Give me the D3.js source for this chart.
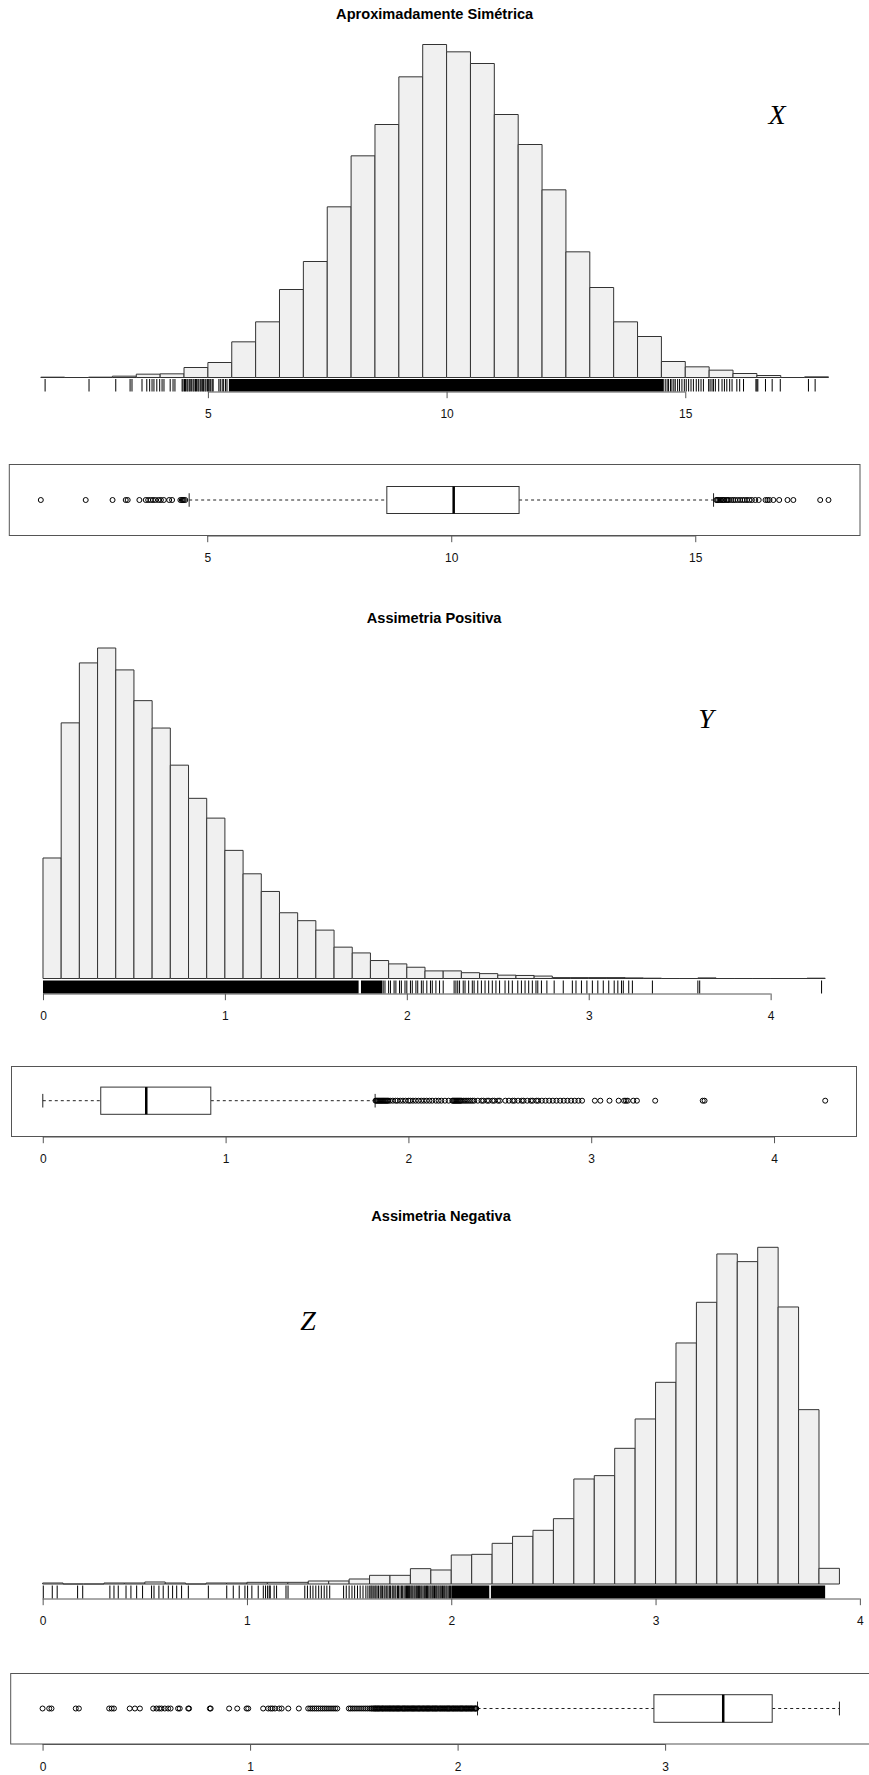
<!DOCTYPE html>
<html>
<head>
<meta charset="utf-8">
<script src="https://cdn.jsdelivr.net/npm/d3@7"></script>
<style>
  html, body { margin: 0; padding: 0; background: #fff; }
  svg { display: block; }
</style>
</head>
<body>
<svg id="chart" width="869" height="1775"></svg>
<script>
// ---------- X : approximately symmetric ----------
const titleX = "Aproximadamente Simétrica";
const letterX = "X";
const binStartX = 1.5, binWidthX = 0.5;
const countsX = [1, 0, 1, 4, 10, 11, 30, 45, 107, 167, 264, 348, 512, 665, 759, 902, 999,
  977, 942, 789, 699, 563, 377, 270, 167, 123, 48, 32, 22, 12, 6, 0, 2];
const rugX = [1.59, 2.51, 3.07, 3.37, 3.41, 3.62, 3.72, 3.78, 3.83, 3.87, 3.93, 3.99, 4.04, 4.08,
  4.21, 4.27, 4.31, 4.46, 4.48, 4.51, 4.53, 4.56, 4.58, 4.61, 4.63, 4.66, 4.69, 4.71, 4.74, 4.76,
  4.79, 4.81, 4.84, 4.86, 4.89, 4.91, 4.94, 4.96, 4.99, 5.01, 5.04, 5.06, 5.09, 5.11,
  5.23, 5.26, 5.30, 5.33, 5.37, 5.40,
  14.58, 14.62, 14.65, 14.69, 14.72, 14.76, 14.79, 14.84, 14.88, 14.93, 14.98, 15.02, 15.07,
  15.12, 15.17, 15.23, 15.28, 15.33, 15.38, 15.49, 15.52, 15.56, 15.59, 15.63, 15.70, 15.77,
  15.82, 15.87, 15.93, 15.98, 16.08, 16.14, 16.22, 16.48, 16.50, 16.52, 16.68, 16.82, 16.99,
  17.58, 17.72];
const rugBandsX = [[5.44, 14.55]];
const ticksX = [5, 10, 15];
const boxRangeX = [1.59, 17.73];
const boxStatsX = [4.63, 8.68, 10.05, 11.39, 15.375];
const outliersX = [1.59, 2.51, 3.06, 3.33, 3.37, 3.61, 3.74, 3.79, 3.84, 3.89, 3.94, 4.00, 4.05,
  4.11, 4.22, 4.28, 4.45, 4.48, 4.50, 4.52, 4.55,
  15.43, 15.45, 15.47, 15.50, 15.53, 15.56, 15.58, 15.60, 15.64, 15.66, 15.69, 15.74, 15.78,
  15.82, 15.87, 15.92, 15.97, 16.01, 16.06, 16.11, 16.16, 16.23, 16.30, 16.44, 16.48, 16.52,
  16.60, 16.72, 16.89, 17.01, 17.56, 17.73];

// ---------- Y : positive skew ----------
const titleY = "Assimetria Positiva";
const letterY = "Y";
const binStartY = 0, binWidthY = 0.1;
const countsY = [396, 840, 1037, 1086, 1014, 913, 823, 701, 592, 527, 421, 344, 286, 216, 190,
  159, 103, 84, 59, 48, 37, 25, 25, 19, 16, 11, 10, 8, 3, 3, 3, 3, 2, 1, 0, 0, 2, 0, 0, 0, 0, 0, 1];
const rugY = [1.87, 1.88, 1.90, 1.91, 1.93, 1.94, 1.96, 1.97, 1.99, 2.00, 2.02, 2.03, 2.05, 2.06,
  2.08, 2.09, 2.11, 2.13, 2.14, 2.16, 2.18, 2.20, 2.26, 2.27, 2.28, 2.29, 2.31, 2.32, 2.34, 2.36,
  2.37, 2.39, 2.41, 2.43, 2.45, 2.47, 2.49, 2.51, 2.54, 2.56, 2.58, 2.61, 2.63, 2.65, 2.67, 2.69,
  2.71, 2.72, 2.74, 2.77, 2.81, 2.86, 2.91, 2.93, 2.96, 2.99, 3.02, 3.05, 3.08, 3.11, 3.14, 3.16,
  3.18, 3.19, 3.22, 3.24, 3.35, 3.60, 3.61, 4.28];
const rugBandsY = [[0, 1.735], [1.748, 1.865]];
const ticksY = [0, 1, 2, 3, 4];
const boxRangeY = [0, 4.28];
const boxStatsY = [0, 0.317, 0.566, 0.919, 1.818];
const outliersY = [1.82, 1.825, 1.83, 1.835, 1.84, 1.845, 1.85, 1.855, 1.86, 1.865, 1.87, 1.875,
  1.88, 1.885, 1.89, 1.90, 1.915, 1.93, 1.94, 1.955, 1.97, 1.985, 2.00, 2.01, 2.025, 2.04, 2.055,
  2.07, 2.085, 2.10, 2.115, 2.13, 2.15, 2.165, 2.18, 2.20, 2.22, 2.24, 2.245, 2.25, 2.255, 2.26,
  2.265, 2.27, 2.275, 2.28, 2.285, 2.29, 2.30, 2.31, 2.32, 2.33, 2.34, 2.35, 2.36, 2.38, 2.40,
  2.41, 2.43, 2.44, 2.46, 2.47, 2.49, 2.50, 2.53, 2.55, 2.57, 2.58, 2.60, 2.62, 2.63, 2.65,
  2.67, 2.68, 2.70, 2.71, 2.73, 2.75, 2.77, 2.79, 2.81, 2.83, 2.85, 2.87, 2.89, 2.91, 2.93, 2.95,
  3.02, 3.05, 3.10, 3.15, 3.18, 3.19, 3.20, 3.23, 3.25, 3.35, 3.61, 3.62, 4.28];

// ---------- Z : negative skew ----------
const titleZ = "Assimetria Negativa";
const letterZ = "Z";
const binStartZ = 0, binWidthZ = 0.1;
const countsZ = [3, 0, 0, 3, 3, 6, 3, 0, 3, 3, 5, 5, 5, 9, 9, 15, 26, 26, 46, 42, 87, 89, 122,
  143, 161, 196, 315, 325, 407, 495, 605, 723, 845, 990, 967, 1010, 831, 523, 47];
const rugZ = [0.003, 0.047, 0.071, 0.171, 0.196, 0.329, 0.349, 0.370, 0.408, 0.432, 0.460, 0.489,
  0.533, 0.545, 0.569, 0.590, 0.615, 0.636, 0.656, 0.680, 0.713, 0.811, 0.901, 0.933, 0.962,
  0.990, 1.003, 1.024, 1.055, 1.080, 1.091, 1.101, 1.109, 1.114, 1.133, 1.145, 1.191, 1.201,
  1.283, 1.296, 1.310, 1.323, 1.337, 1.351, 1.364, 1.378, 1.391, 1.405, 1.473, 1.486, 1.500,
  1.514, 1.527, 1.541, 1.554, 1.568, 1.582, 1.592, 1.601, 1.607, 1.612, 1.618, 1.626, 1.631,
  1.637, 1.644, 1.652, 1.657, 1.663, 1.671, 1.676, 1.684, 1.690, 1.697, 1.703, 1.711, 1.716,
  1.724, 1.729, 1.737, 1.742, 1.749, 1.756, 1.762, 1.769, 1.775, 1.781, 1.786, 1.791, 1.796,
  1.802, 1.807, 1.812, 1.818, 1.823, 1.829, 1.834, 1.840, 1.845, 1.851, 1.856, 1.862, 1.868,
  1.873, 1.879, 1.884, 1.890, 1.896, 1.901, 1.907, 1.912, 1.918, 1.924, 1.929, 1.935, 1.940,
  1.946, 1.951, 1.957, 1.963, 1.968, 1.974, 1.979, 1.985, 1.991, 1.996];
const rugBandsZ = [[2.0, 2.186], [2.194, 3.83]];
const ticksZ = [0, 1, 2, 3, 4];
const boxRangeZ = [0, 3.84];
const boxTicksZ = [0, 1, 2, 3];
const boxStatsZ = [2.096, 2.946, 3.28, 3.516, 3.84];
const outliersZ = [0.0, 0.032, 0.043, 0.16, 0.175, 0.321, 0.333, 0.344, 0.42, 0.445, 0.469, 0.533,
  0.549, 0.562, 0.573, 0.589, 0.605, 0.617, 0.653, 0.661, 0.702, 0.706, 0.806, 0.81, 0.899, 0.938,
  0.983, 0.991, 1.063, 1.087, 1.099, 1.108, 1.12, 1.14, 1.152, 1.184, 1.235, 1.28, 1.29, 1.30,
  1.31, 1.32, 1.33, 1.34, 1.35, 1.36, 1.37, 1.38, 1.39, 1.40, 1.41, 1.42, 1.476, 1.485, 1.495,
  1.505, 1.515, 1.525, 1.535, 1.545, 1.555, 1.565, 1.575, 1.583, 1.588, 1.594, 1.598, 1.603,
  1.606, 1.611, 1.615, 1.619, 1.623, 1.628, 1.634, 1.638, 1.641, 1.646, 1.651, 1.655, 1.66, 1.664,
  1.669, 1.673, 1.677, 1.682, 1.687, 1.691, 1.695, 1.7, 1.705, 1.709, 1.713, 1.717, 1.721, 1.726,
  1.732, 1.736, 1.74, 1.744, 1.748, 1.753, 1.758, 1.762, 1.767, 1.772, 1.777, 1.781, 1.785, 1.789,
  1.793, 1.798, 1.803, 1.808, 1.812, 1.816, 1.82, 1.826, 1.831, 1.835, 1.839, 1.844, 1.849, 1.853,
  1.857, 1.861, 1.865, 1.87, 1.876, 1.88, 1.884, 1.889, 1.893, 1.897, 1.901, 1.906, 1.912, 1.916,
  1.92, 1.925, 1.929, 1.934, 1.938, 1.943, 1.948, 1.952, 1.956, 1.96, 1.964, 1.97, 1.975, 1.979,
  1.983, 1.988, 1.992, 1.997, 2.001, 2.006, 2.011, 2.015, 2.019, 2.023, 2.027, 2.033, 2.038,
  2.042, 2.046, 2.051, 2.055, 2.06, 2.064, 2.068, 2.072, 2.078, 2.083, 2.087, 2.09];

// ---------- layout ----------
const panels = [
  {
    title: titleX, letter: letterX, binStart: binStartX, binWidth: binWidthX, counts: countsX,
    rug: rugX, rugBands: rugBandsX, ticks: ticksX,
    boxRange: boxRangeX, boxStats: boxStatsX, outliers: outliersX, boxTicks: ticksX,
    L: { x0: 9.3, x1: 860, titleY: 18.5, base: 377.5, top: 44.5, rugTop: 379, axisY: 391.5,
         letterX: 777, letterY: 124,
         bx0: 9.3, bx1: 860, frameTop: 464.5, frameBot: 535.5, mid: 500, half: 13.5 }
  },
  {
    title: titleY, letter: letterY, binStart: binStartY, binWidth: binWidthY, counts: countsY,
    rug: rugY, rugBands: rugBandsY, ticks: ticksY,
    boxRange: boxRangeY, boxStats: boxStatsY, outliers: outliersY, boxTicks: ticksY,
    L: { x0: 11.7, x1: 856.5, titleY: 623.3, base: 978.5, top: 648, rugTop: 980.5, axisY: 993.5,
         letterX: 706, letterY: 728,
         bx0: 11.5, bx1: 856.5, frameTop: 1066.5, frameBot: 1136.5, mid: 1100.7, half: 13.6 }
  },
  {
    title: titleZ, letter: letterZ, binStart: binStartZ, binWidth: binWidthZ, counts: countsZ,
    rug: rugZ, rugBands: rugBandsZ, ticks: ticksZ,
    boxRange: boxRangeZ, boxStats: boxStatsZ, outliers: outliersZ, boxTicks: boxTicksZ,
    L: { x0: 10.8, x1: 871.3, titleY: 1220.5, base: 1584, top: 1247.3, rugTop: 1585.5, axisY: 1598.5,
         letterX: 308, letterY: 1329.5,
         bx0: 10.7, bx1: 871.3, frameTop: 1673.5, frameBot: 1744, mid: 1708.5, half: 13.8 }
  }
];

const svg = d3.select("#chart");
const FONT = "'Liberation Sans', Arial, Helvetica, sans-serif";
const TICK_LEN = 6.7;

// R-style axis: line only between first and last tick, ticks pointing down
function drawAxis(g, scale, ticks, y) {
  const ax = g.append("g")
    .attr("transform", `translate(0,${y})`)
    .call(d3.axisBottom(scale).tickValues(ticks).tickSize(TICK_LEN).tickSizeOuter(0)
      .tickFormat(d3.format("d")));
  ax.select(".domain")
    .attr("d", `M${scale(ticks[0])},0.5H${scale(ticks[ticks.length - 1])}`)
    .attr("stroke", "#555");
  ax.selectAll(".tick line").attr("stroke", "#555");
  ax.selectAll(".tick text")
    .attr("y", 26.5).attr("dy", null)
    .attr("fill", "#111")
    .style("font-family", FONT).style("font-size", "12px");
}

panels.forEach(p => {
  const L = p.L;
  const breaks = p.counts.map((_, i) => p.binStart + i * p.binWidth);
  breaks.push(p.binStart + p.counts.length * p.binWidth);
  const lo = breaks[0], hi = breaks[breaks.length - 1], pad = (hi - lo) * 0.04;

  const x = d3.scaleLinear().domain([lo - pad, hi + pad]).range([L.x0, L.x1]);
  const y = d3.scaleLinear().domain([0, d3.max(p.counts)]).range([L.base, L.top]);
  const g = svg.append("g");

  // title
  g.append("text")
    .attr("x", (L.x0 + L.x1) / 2).attr("y", L.titleY)
    .attr("text-anchor", "middle")
    .style("font-family", FONT).style("font-size", "14.6px").style("font-weight", "bold")
    .text(p.title);

  // histogram bars (empty bins collapse to a line on the baseline)
  g.append("g").selectAll("path")
    .data(p.counts)
    .join("path")
    .attr("d", (c, i) => {
      const a = x(breaks[i]), b = x(breaks[i + 1]), t = y(c), yb = y(0);
      return `M${a},${yb}V${t}H${b}V${yb}Z`;
    })
    .attr("fill", "#f0f0f0")
    .attr("stroke", "#333")
    .attr("stroke-width", 1);

  // rug: dense stretches as filled bands, sparse values as single ticks
  g.append("g").selectAll("rect")
    .data(p.rugBands)
    .join("rect")
    .attr("x", d => x(d[0])).attr("width", d => x(d[1]) - x(d[0]))
    .attr("y", L.rugTop).attr("height", L.axisY - L.rugTop)
    .attr("fill", "#000");
  g.append("g").selectAll("line")
    .data(p.rug)
    .join("line")
    .attr("x1", d => x(d)).attr("x2", d => x(d))
    .attr("y1", L.rugTop).attr("y2", L.axisY)
    .attr("stroke", "#000").attr("stroke-width", 1);

  drawAxis(g, x, p.ticks, L.axisY);

  // variable letter
  g.append("text")
    .attr("x", L.letterX).attr("y", L.letterY)
    .attr("text-anchor", "middle")
    .style("font-family", "'Liberation Serif', 'DejaVu Serif', serif")
    .style("font-style", "italic").style("font-size", "28px")
    .text(p.letter);

  // ---------- horizontal boxplot ----------
  const bpad = (p.boxRange[1] - p.boxRange[0]) * 0.04;
  const bx = d3.scaleLinear()
    .domain([p.boxRange[0] - bpad, p.boxRange[1] + bpad])
    .range([L.bx0, L.bx1]);
  const bg = svg.append("g");
  const [wLo, q1, med, q3, wHi] = p.boxStats;
  const cap = L.half / 2;

  // whiskers
  bg.append("g").selectAll("line")
    .data([[wLo, q1], [q3, wHi]])
    .join("line")
    .attr("x1", d => bx(d[0])).attr("x2", d => bx(d[1]))
    .attr("y1", L.mid).attr("y2", L.mid)
    .attr("stroke", "#222").attr("stroke-dasharray", "3,3");
  bg.append("g").selectAll("line")
    .data([wLo, wHi])
    .join("line")
    .attr("x1", d => bx(d)).attr("x2", d => bx(d))
    .attr("y1", L.mid - cap).attr("y2", L.mid + cap)
    .attr("stroke", "#222");
  // box and median
  bg.append("rect")
    .attr("x", bx(q1)).attr("width", bx(q3) - bx(q1))
    .attr("y", L.mid - L.half).attr("height", 2 * L.half)
    .attr("fill", "#fff").attr("stroke", "#333");
  bg.append("line")
    .attr("x1", bx(med)).attr("x2", bx(med))
    .attr("y1", L.mid - L.half).attr("y2", L.mid + L.half)
    .attr("stroke", "#000").attr("stroke-width", 2.5);
  // outliers
  bg.append("g").selectAll("circle")
    .data(p.outliers)
    .join("circle")
    .attr("cx", d => bx(d)).attr("cy", L.mid).attr("r", 2.5)
    .attr("fill", "none").attr("stroke", "#000").attr("stroke-width", 1);
  // frame
  bg.append("rect")
    .attr("x", L.bx0).attr("y", L.frameTop)
    .attr("width", L.bx1 - L.bx0).attr("height", L.frameBot - L.frameTop)
    .attr("fill", "none").attr("stroke", "#555");

  drawAxis(bg, bx, p.boxTicks, L.frameBot);
});
</script>
</body>
</html>
